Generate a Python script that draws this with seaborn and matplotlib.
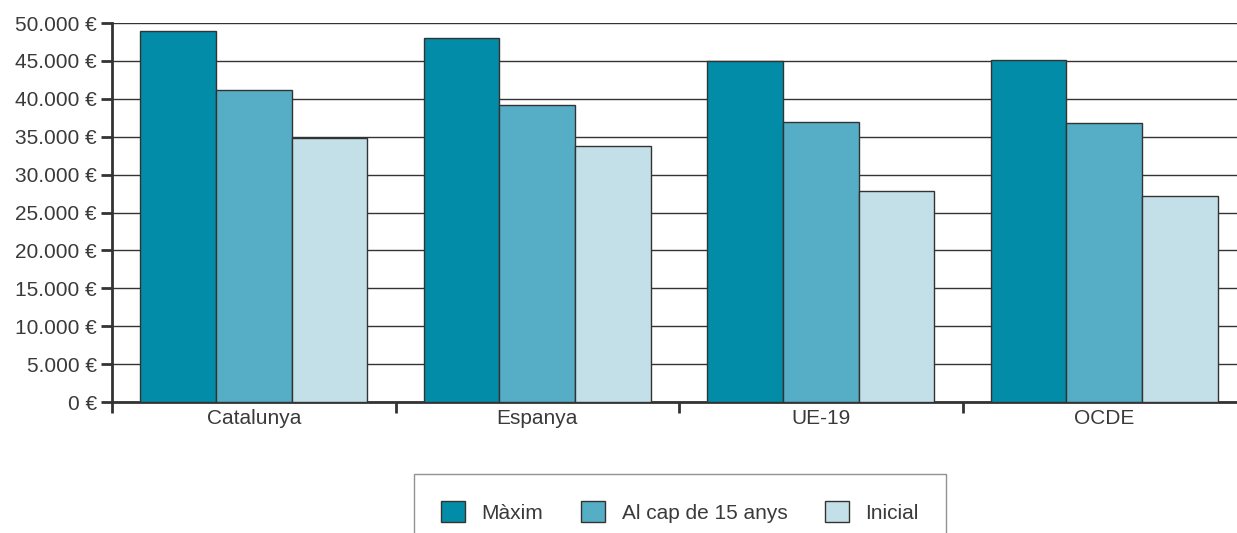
import pandas as pd
import matplotlib.pyplot as plt
import matplotlib.ticker as mticker
import seaborn as sns

# Data
regions = ['Catalunya', 'Espanya', 'UE-19', 'OCDE']
series = ['Màxim', 'Al cap de 15 anys', 'Inicial']
maxim = [49000, 48000, 45000, 45100]
al_cap_15 = [41100, 39200, 36900, 36800]
inicial = [34800, 33800, 27800, 27200]
y_ticks = list(range(0, 50001, 5000))
colors = ['#028ca8', '#55adc6', '#c3dfe7']

df = pd.DataFrame({
    'regio': regions * 3,
    'serie': [series[0]] * 4 + [series[1]] * 4 + [series[2]] * 4,
    'valor': maxim + al_cap_15 + inicial,
})

sns.set_theme(style='white')
plt.rcParams['font.family'] = ['Liberation Sans', 'DejaVu Sans']
text_color = '#3a3a3a'
fs = 15

fig = plt.figure(figsize=(12.37, 5.33), dpi=100)
ax = fig.add_axes([112 / 1237, 131 / 533, 1134 / 1237, 379 / 533])

sns.barplot(data=df, x='regio', y='valor', hue='serie', hue_order=series,
            order=regions, palette=colors, width=0.8, ax=ax,
            edgecolor='#333333', linewidth=1, saturation=1, zorder=3)

ax.set_xlim(-0.5, 3.5)
ax.set_ylim(0, 50000)
ax.set_yticks(y_ticks)
ax.yaxis.set_major_formatter(mticker.FuncFormatter(
    lambda v, p: f'{int(v):,}'.replace(',', '.') + ' €'))
ax.yaxis.grid(True, color='#333333', linewidth=1)
ax.set_axisbelow(True)

ax.set_xlabel('')
ax.set_ylabel('')
ax.set_xticks([-0.5, 0.5, 1.5, 2.5, 3.5], minor=True)
ax.tick_params(axis='x', which='major', length=0, pad=5,
               labelsize=fs, labelcolor=text_color)
ax.tick_params(axis='x', which='minor', length=8, width=2,
               color='#333333', direction='out', bottom=True)
ax.tick_params(axis='y', length=8, width=2, color='#333333', left=True,
               labelsize=fs, labelcolor=text_color, pad=3)

for side in ['top', 'right']:
    ax.spines[side].set_visible(False)
for side in ['left', 'bottom']:
    ax.spines[side].set_color('#333333')
    ax.spines[side].set_linewidth(2)

handles, labels = ax.get_legend_handles_labels()
ax.legend_.remove()
leg = fig.legend(handles, labels, loc='upper center',
                 bbox_to_anchor=(680 / 1237, 1 - 474 / 533), ncol=3,
                 frameon=True, fancybox=False, fontsize=fs,
                 handlelength=1.15, handleheight=1.2, handletextpad=0.8,
                 columnspacing=1.8, borderpad=1.3, borderaxespad=0,
                 labelcolor=text_color)
leg.get_frame().set_edgecolor('#777777')
leg.get_frame().set_linewidth(1)

fig.savefig('out.png', dpi=100)
